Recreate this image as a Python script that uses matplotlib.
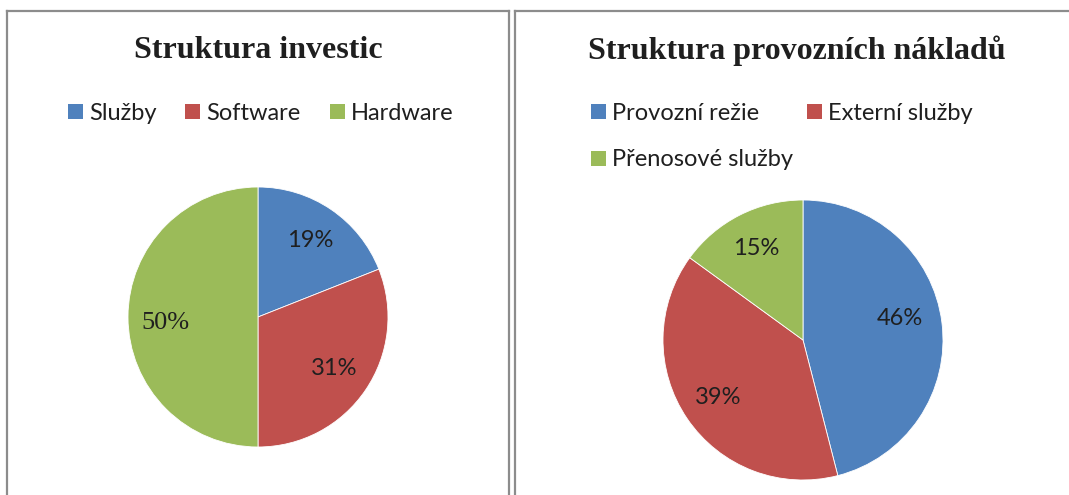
import matplotlib
matplotlib.use("Agg")
import matplotlib.pyplot as plt
from matplotlib.patches import Rectangle
from matplotlib.lines import Line2D
from matplotlib.font_manager import FontProperties

# ---- data ----
inv_title = "Struktura investic"
inv_labels = ["Služby", "Software", "Hardware"]
inv_values = [19, 31, 50]

prov_title = "Struktura provozních nákladů"
prov_labels = ["Provozní režie", "Externí služby", "Přenosové služby"]
prov_values = [46, 39, 15]

colors = ["#4F81BD", "#C0504D", "#9BBB59"]

W, H = 1069, 495
fig = plt.figure(figsize=(W / 100, H / 100), dpi=100)
fig.patch.set_facecolor("white")

def fx(x):
    return x / W

def fy(y):
    return 1 - y / H

SANS = "Lato"
SERIF = "Liberation Serif"
txt_color = "#1f1f1f"

# ---- panel borders ----
border = "#8c8c8c"
for (x0, x1) in [(7, 509), (515, 1075)]:
    fig.add_artist(Line2D([fx(x0), fx(x0)], [fy(11), fy(500)], color=border, lw=1.6))
    fig.add_artist(Line2D([fx(x0), fx(x1)], [fy(11), fy(11)], color=border, lw=1.6))
    fig.add_artist(Line2D([fx(x1), fx(x1)], [fy(11), fy(500)], color=border, lw=1.6))

# ---- titles ----
fig.text(fx(258), fy(51), inv_title, ha="center", va="center",
         family=SERIF, weight="bold", fontsize=23, color=txt_color)
fig.text(fx(797), fy(51), prov_title, ha="center", va="center",
         family=SERIF, weight="bold", fontsize=23, color=txt_color)

# ---- pies ----
def pie_axes(cx, cy, r):
    return fig.add_axes([fx(cx - r), fy(cy + r), 2 * r / W, 2 * r / H])

ax1 = pie_axes(258, 317, 130)
w1, _, t1 = ax1.pie(inv_values, colors=colors, startangle=90, counterclock=False,
                    autopct="%d%%", pctdistance=0.71, radius=1,
                    wedgeprops=dict(edgecolor="white", linewidth=0.6),
                    textprops=dict(family=SANS, fontsize=17, color=txt_color))
t1[2].set_fontproperties(FontProperties(family=SERIF, size=19))
x50, y50 = t1[2].get_position()
t1[2].set_position((x50, y50 - 0.05))
ax1.set_xlim(-1, 1); ax1.set_ylim(-1, 1)
ax1.set_aspect("equal"); ax1.axis("off")

ax2 = pie_axes(803, 340, 140)
w2, _, t2 = ax2.pie(prov_values, colors=colors, startangle=90, counterclock=False,
                    autopct="%d%%", pctdistance=0.73, radius=1,
                    wedgeprops=dict(edgecolor="white", linewidth=0.6),
                    textprops=dict(family=SANS, fontsize=17, color=txt_color))
x46, y46 = t2[0].get_position()
t2[0].set_position((x46 - 0.03, y46 + 0.06))
ax2.set_xlim(-1, 1); ax2.set_ylim(-1, 1)
ax2.set_aspect("equal"); ax2.axis("off")

# ---- legends (manual, Excel-like) ----
def legend_item(x, y, label, color):
    s = 15
    fig.add_artist(Rectangle((fx(x), fy(y + s / 2)), s / W, s / H,
                             transform=fig.transFigure, facecolor=color,
                             edgecolor="none"))
    fig.text(fx(x + s + 6), fy(y), label, ha="left", va="center_baseline",
             family=SANS, fontsize=17, color=txt_color)

inv_leg_pos = [(68, 111), (185, 111), (330, 111)]
for (x, y), lab, c in zip(inv_leg_pos, inv_labels, colors):
    legend_item(x, y, lab, c)

prov_leg_pos = [(591, 111), (807, 111), (591, 158)]
for (x, y), lab, c in zip(prov_leg_pos, prov_labels, colors):
    legend_item(x, y, lab, c)

fig.savefig("out.png", dpi=100, facecolor="white")
